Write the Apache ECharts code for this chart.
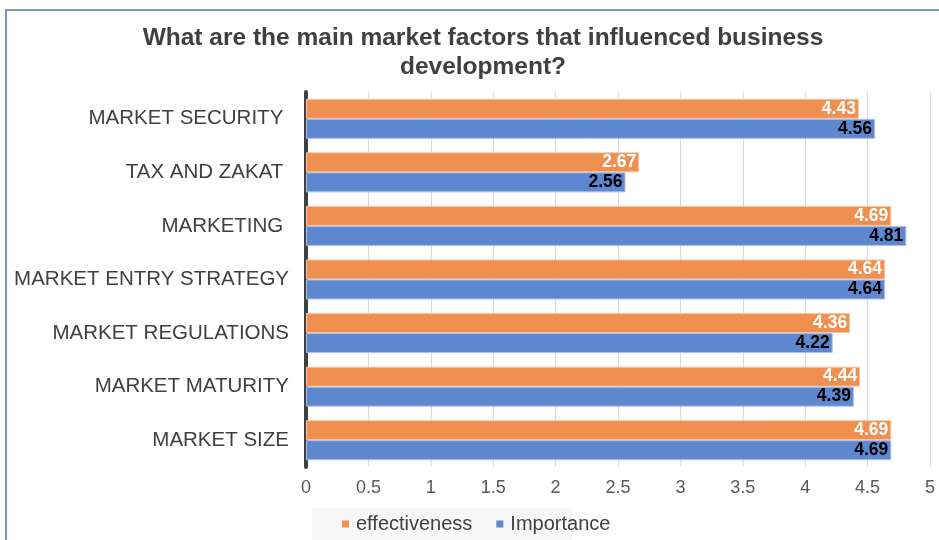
<!DOCTYPE html>
<html>
<head>
<meta charset="utf-8">
<script src="https://cdn.jsdelivr.net/npm/echarts@6/dist/echarts.min.js"></script>
<style>
  html, body { margin: 0; padding: 0; background: #fff; }
  #chart { width: 939px; height: 540px; }
</style>
</head>
<body>
<div id="chart"></div>
<script>
// categories top to bottom
const categories = [
  "MARKET SECURITY ",
  "TAX AND ZAKAT ",
  "MARKETING ",
  "MARKET ENTRY STRATEGY",
  "MARKET REGULATIONS",
  "MARKET MATURITY",
  "MARKET SIZE"
];
const effectiveness = [4.43, 2.67, 4.69, 4.64, 4.36, 4.44, 4.69];
const importance = [4.56, 2.56, 4.81, 4.64, 4.22, 4.39, 4.69];
const xTicks = [0, 0.5, 1, 1.5, 2, 2.5, 3, 3.5, 4, 4.5, 5];

const chart = echarts.init(document.getElementById("chart"));

const labelStyle = (color) => ({
  show: true,
  position: "insideRight",
  distance: 3,
  color: color,
  fontFamily: "Liberation Sans",
  fontWeight: "bold",
  fontSize: 17.5,
  formatter: (p) => p.value.toFixed(2)
});

const option = {
  animation: false,
  title: {
    text: "What are the main market factors that influenced business\ndevelopment?",
    left: 478,
    top: 19,
    textAlign: "center",
    textStyle: {
      color: "#404040",
      fontFamily: "Liberation Sans",
      fontWeight: "bold",
      fontSize: 24.5,
      lineHeight: 29
    }
  },
  graphic: [
    {
      type: "polyline",
      shape: { points: [[6, 545], [6, 10], [945, 10]] },
      style: { stroke: "#7a98bd", lineWidth: 2, fill: null }
    },
    {
      type: "rect",
      shape: { x: 312, y: 508, width: 260, height: 34 },
      style: { fill: "#f7f7f7" },
      z: -1
    }
  ],
  legend: {
    left: 342,
    top: 514,
    padding: 0,
    itemWidth: 7,
    itemHeight: 7,
    itemGap: 24,
    icon: "rect",
    itemStyle: { borderWidth: 0 },
    textStyle: { color: "#404040", fontFamily: "Liberation Sans", fontSize: 20, padding: [0, 0, 0, 2] },
    data: ["effectiveness", "Importance"]
  },
  grid: { left: 306, right: 9, top: 92, bottom: 73, containLabel: false },
  xAxis: {
    type: "value",
    min: 0,
    max: 5,
    interval: 0.5,
    axisLine: { show: false },
    axisTick: { show: false },
    splitLine: { lineStyle: { color: "#d9d9d9", width: 1 } },
    axisLabel: {
      color: "#595959",
      fontFamily: "Liberation Sans",
      fontSize: 18,
      margin: 12,
      formatter: (v) => (xTicks.includes(v) ? String(v) : "")
    }
  },
  yAxis: {
    type: "category",
    inverse: true,
    data: categories,
    axisLine: { lineStyle: { color: "#404040", width: 4 } },
    axisTick: { show: false },
    axisLabel: {
      color: "#404040",
      fontFamily: "Liberation Sans",
      fontSize: 20.5,
      margin: 17
    }
  },
  series: [
    {
      name: "effectiveness",
      type: "bar",
      data: effectiveness,
      barWidth: 20,
      barGap: "0%",
      barCategoryGap: "25%",
      itemStyle: { color: "#ef8f50", borderColor: "#f7c7a5", borderWidth: 1 },
      label: labelStyle("#ffffff")
    },
    {
      name: "Importance",
      type: "bar",
      data: importance,
      barWidth: 20,
      barGap: "0%",
      itemStyle: { color: "#5d87cf", borderColor: "#aac0e6", borderWidth: 1 },
      label: labelStyle("#000000")
    }
  ]
};

chart.setOption(option);
</script>
</body>
</html>
